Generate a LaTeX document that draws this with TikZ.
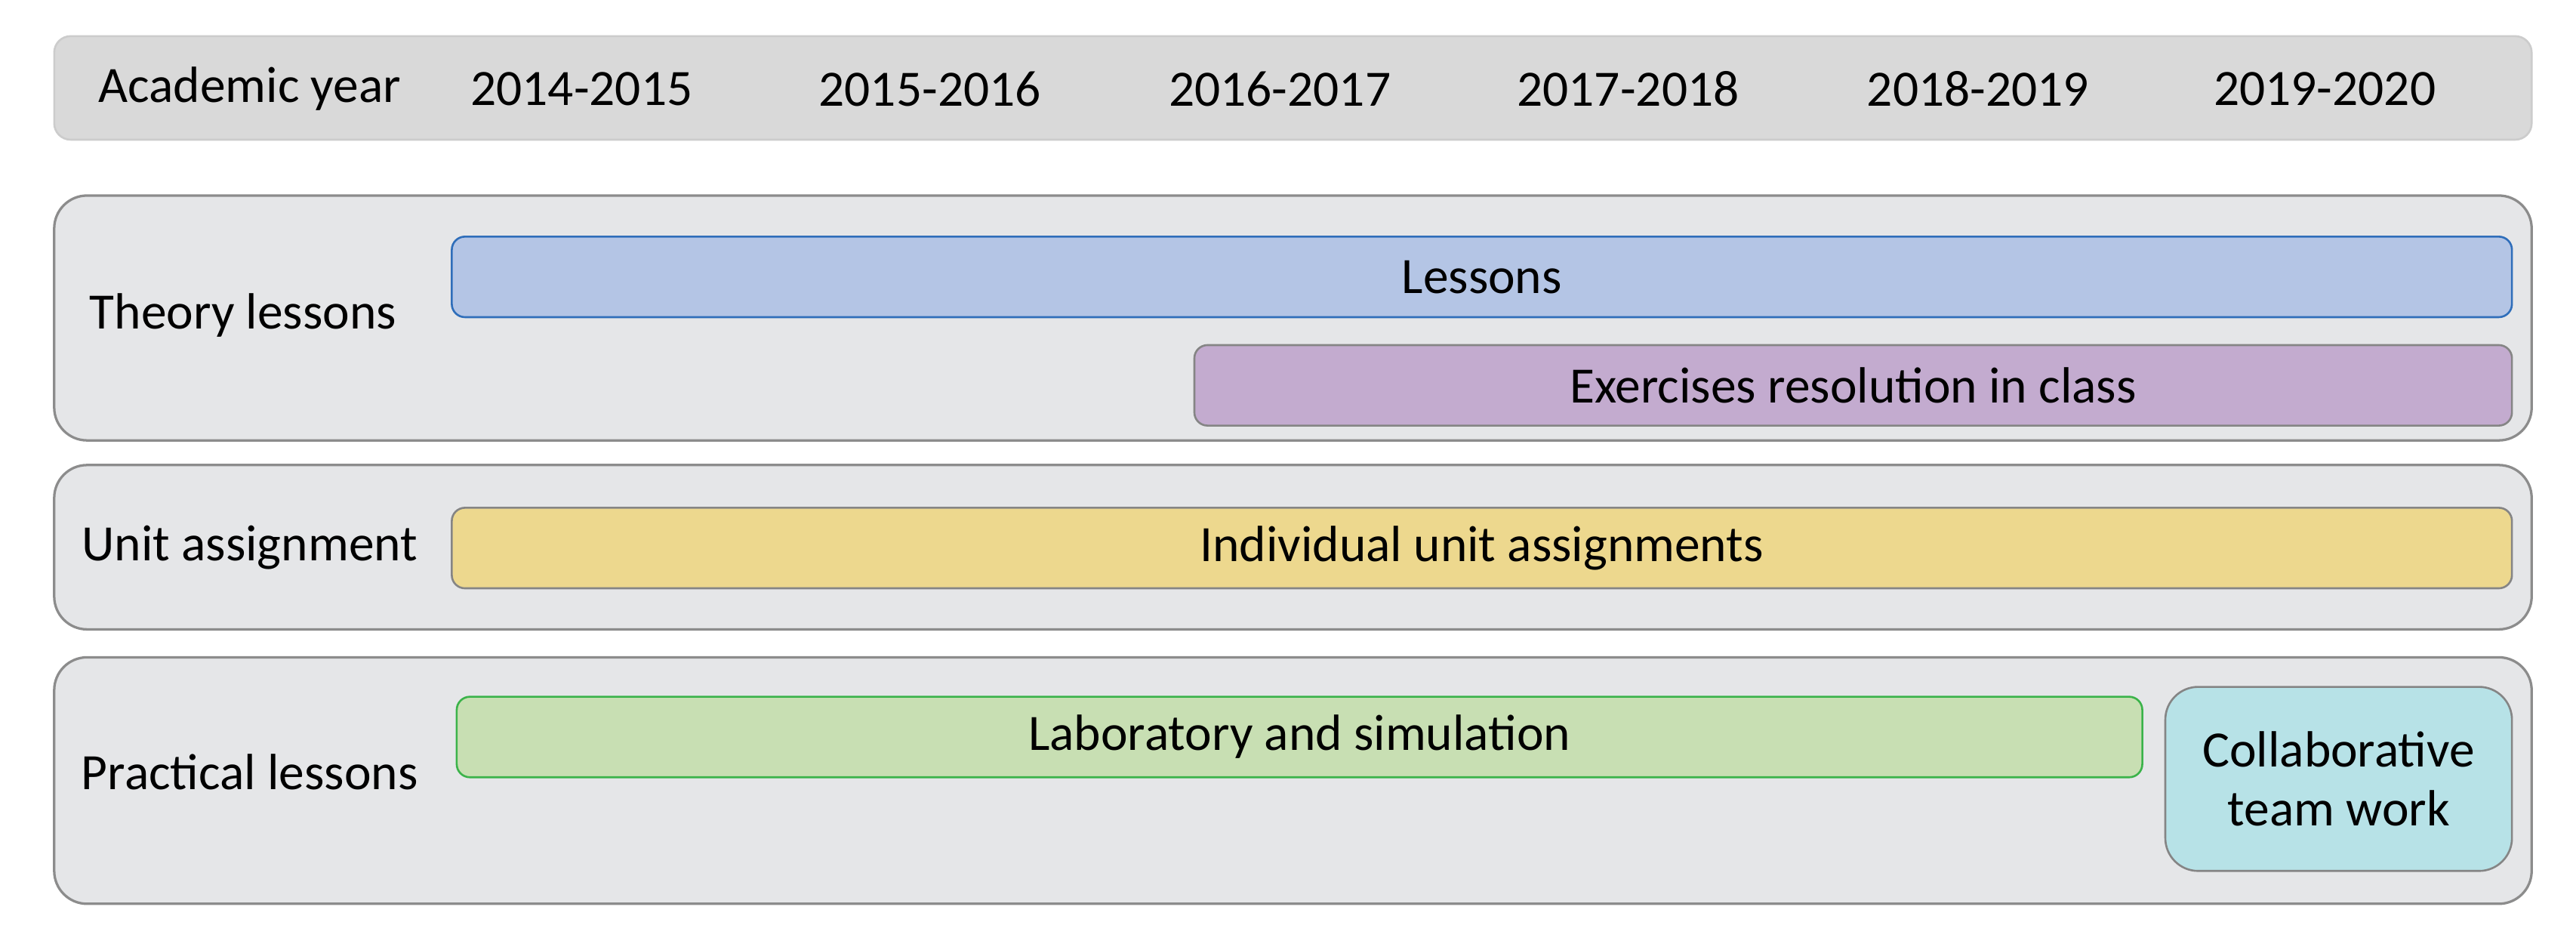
\documentclass[tikz,border=0pt]{standalone}
\usepackage{fontspec}
\setmainfont{Carlito}
\definecolor{hdrfill}{HTML}{D9D9D9}
\definecolor{hdrline}{HTML}{CCCCCC}
\definecolor{grpfill}{HTML}{E5E6E8}
\definecolor{grpline}{HTML}{8C8C8C}
\definecolor{lesfill}{HTML}{B4C5E5}
\definecolor{lesline}{HTML}{2F6EBA}
\definecolor{exefill}{HTML}{C3ABCF}
\definecolor{barline}{HTML}{858585}
\definecolor{indfill}{HTML}{EDD88E}
\definecolor{labfill}{HTML}{C8DFB3}
\definecolor{labline}{HTML}{3BB34A}
\definecolor{colfill}{HTML}{B7E2E7}
\tikzset{
  txt/.style={font=\fontsize{31}{36}\selectfont, text=black},
  hdr/.style={draw=hdrline, fill=hdrfill, line width=1.2pt, rounded corners=10pt, inner sep=0pt, outer sep=0pt},
  grp/.style={draw=grpline, fill=grpfill, line width=1.5pt, rounded corners=20pt, inner sep=0pt, outer sep=0pt},
  bar/.style={line width=1.2pt, rounded corners=8pt, inner sep=0pt, outer sep=0pt, txt},
}
\begin{document}
\begin{tikzpicture}[x=1pt,y=-1pt]
\useasboundingbox[fill=white] (0,0) rectangle (1568,578);
% header
\node[hdr, minimum width=1508pt, minimum height=63pt] (header) at (787,53.5) {};
\node[txt] (hay) at (152,54) {Academic year};
\node[txt] (y1) at (354,54) {2014-2015};
\node[txt] (y2) at (566,54) {2015-2016};
\node[txt] (y3) at (779,54) {2016-2017};
\node[txt] (y4) at (991,54) {2017-2018};
\node[txt] (y5) at (1204,54) {2018-2019};
\node[txt] (y6) at (1415,54) {2019-2020};
% groups
\node[grp, minimum width=1508pt, minimum height=149pt] (theory) at (787,193.5) {};
\node[grp, minimum width=1508pt, minimum height=100pt] (unit) at (787,333) {};
\node[grp, minimum width=1508pt, minimum height=150pt] (practical) at (787,475) {};
\node[txt] (theorylab) at (148,192) {Theory lessons};
\node[txt] (unitlab) at (152,333) {Unit assignment};
\node[txt] (praclab) at (152,470) {Practical lessons};
% bars
\node[bar, draw=lesline, fill=lesfill, minimum width=1254pt, minimum height=49pt] (lessons) at (902,168.5) {Lessons};
\node[bar, draw=barline, fill=exefill, minimum width=802pt, minimum height=49pt] (exercises) at (1128,234.5) {Exercises resolution in class};
\node[bar, draw=barline, fill=indfill, minimum width=1254pt, minimum height=49pt] (individual) at (902,333.5) {Individual unit assignments};
\node[bar, draw=labline, fill=labfill, minimum width=1026pt, minimum height=49pt] (lab) at (791,448.5) {Laboratory and simulation};
\node[bar, draw=barline, fill=colfill, rounded corners=20pt, minimum width=211pt, minimum height=112pt, align=center] (collab) at (1423.5,474) {Collaborative\\team work};
\end{tikzpicture}
\end{document}
